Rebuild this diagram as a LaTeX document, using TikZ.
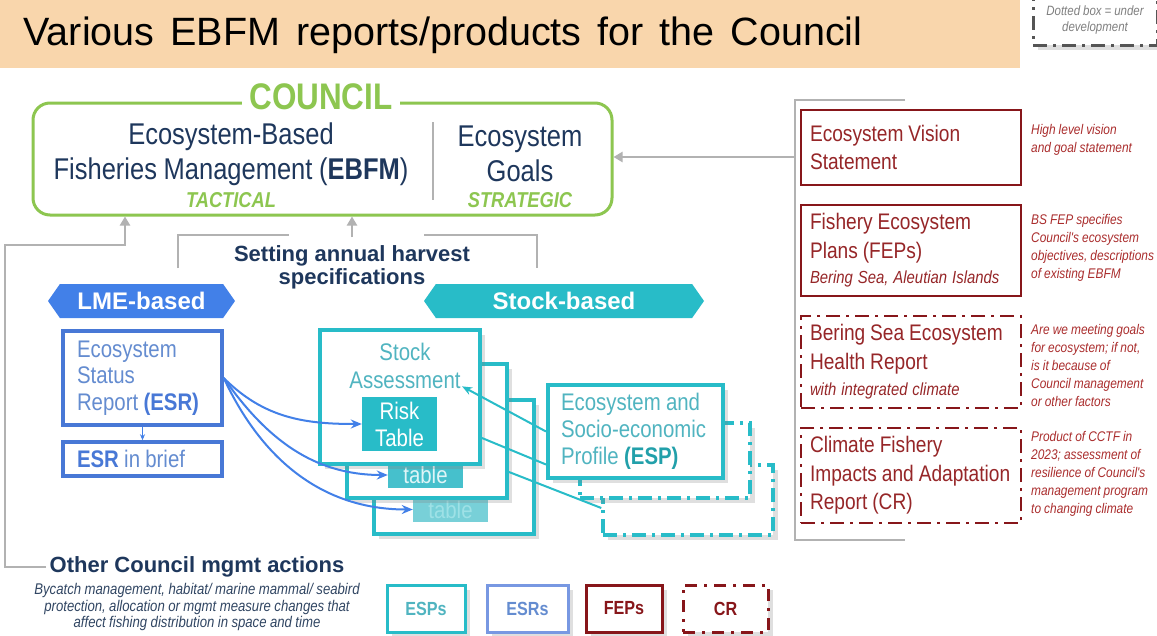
\documentclass[tikz,border=0pt]{standalone}
\usepackage{fontspec}
\setmainfont{Liberation Sans}
\newfontfamily\nar[FakeStretch=0.85]{Liberation Sans}
\usetikzlibrary{arrows.meta,positioning,shapes.symbols,shadows}
\definecolor{peach}{RGB}{249,214,172}
\definecolor{navy}{RGB}{30,55,92}
\definecolor{cgreen}{RGB}{141,198,80}
\definecolor{fepred}{RGB}{135,22,26}
\definecolor{redink}{RGB}{150,38,40}
\definecolor{noteink}{RGB}{170,45,45}
\definecolor{stteal}{RGB}{40,188,200}
\definecolor{tealink}{RGB}{80,180,192}
\definecolor{tblmid}{RGB}{70,192,204}
\definecolor{tblpale}{RGB}{120,208,216}
\definecolor{lmeblue}{RGB}{66,128,232}
\definecolor{esrblue}{RGB}{72,120,214}
\definecolor{esrink}{RGB}{100,140,208}
\definecolor{esrlight}{RGB}{120,152,226}
\definecolor{inkgray}{RGB}{178,178,178}
\definecolor{devgray}{RGB}{85,85,85}
\newcommand\fsz[2]{\fontsize{#1}{#2}\selectfont}

\begin{document}
\begin{tikzpicture}[x=1pt,y=-1pt,
  tight/.style={execute at begin node={\spaceskip=.22em plus .1em minus .05em\relax}},
  shd/.style={drop shadow={opacity=.25,shadow xshift=5pt,shadow yshift=-5pt}},
  cbox/.style={draw=cgreen,line width=3pt,rounded corners=17pt,minimum width=579pt,minimum height=112pt},
  navt/.style={tight,text=navy,align=center,font=\nar\fsz{30}{35}},
  grt/.style={text=cgreen,font=\nar\bfseries\itshape\fsz{21.5}{24}},
  hd/.style={text=navy,align=center,font=\bfseries\fsz{22}{23}},
  ban/.style={shape=signal,signal to=west and east,signal pointer angle=110,minimum height=34pt,
    inner sep=0pt,text=white,font=\bfseries\fsz{24}{26}},
  sbox/.style={shd,draw=stteal,line width=4pt,fill=white,minimum width=160pt,minimum height=134pt},
  tbl/.style={fill=stteal,text=white,minimum width=75pt,align=center,inner sep=0pt,font=\nar\fsz{24}{27}},
  pbox/.style={tight,shd,draw=stteal,line width=4pt,fill=white,minimum width=175pt,text width=149pt,
    inner xsep=13pt,align=left,text=tealink,font=\nar\fsz{24}{27}},
  dbox/.style={shd,draw=stteal,line width=3.5pt,fill=white,dash pattern=on 14pt off 6pt on 3pt off 6pt},
  ebox/.style={tight,draw=esrblue,line width=3.5pt,minimum width=159pt,text width=131pt,inner xsep=14pt,
    align=left,text=esrink,font=\nar\fsz{24}{26.5}},
  rbox/.style={tight,draw=fepred,line width=2.5pt,minimum width=220pt,text width=202pt,inner xsep=9pt,
    align=left,text=redink,font=\nar\fsz{22.5}{28.5}},
  rdash/.style={rbox,dash pattern=on 14pt off 6pt on 3pt off 6pt},
  nt/.style={tight,anchor=west,inner sep=0pt,align=left,text=noteink,font=\nar\itshape\fsz{14}{18}},
  lg/.style={shd,line width=3pt,fill=white,minimum height=47pt,font=\nar\bfseries\fsz{19}{22}},
  gl/.style={draw=inkgray,line width=2.5pt},
  garr/.style={gl,-{Triangle[length=9pt,width=10pt]}},
  barr/.style={draw=lmeblue,line width=2pt,-{Stealth[length=11pt,width=9pt]}},
  tl/.style={draw=stteal,line width=2pt},
  tarr/.style={tl,-{Stealth[length=10pt,width=8pt]}}]
\fill[white] (0,0) rectangle (1157,635);
\useasboundingbox (0,0) rectangle (1157,635);
% title band
\fill[peach] (0,0) rectangle (1020,68);
\node[anchor=west,font=\fsz{39.5}{44}] (ttl) at (20,35)
  {\spaceskip=16pt\relax Various EBFM reports/products for the Council};
\node[tight,shd,draw=devgray,line width=3pt,fill=white,dash pattern=on 14pt off 6pt on 3pt off 6pt,
  minimum width=124pt,minimum height=50pt,align=center,text=gray,font=\nar\itshape\fsz{13.5}{16}]
  (devkey) at (1095,20) {Dotted box = under\\development};
% council
\node[cbox] (council) at (322.5,159) {};
\node[fill=white,inner xsep=7pt,inner ysep=0pt,text=cgreen,font=\nar\bfseries\fsz{37}{40}]
  (ctl) at (321,97) {COUNCIL};
\node[navt] (ebfm) at (231,154) {Ecosystem-Based\\Fisheries Management (\textbf{EBFM})};
\node[grt] (tac) at (231,200) {TACTICAL};
\draw[draw=inkgray,line width=1.5pt] (433,122) -- (433,200);
\node[navt] (goal) at (520,154) {Ecosystem\\Goals};
\node[grt] (strat) at (520,200) {STRATEGIC};
% gray connectors into the council
\coordinate (bendL) at (5,245);
\coordinate (tacin) at (125,245);
\coordinate (setL) at (178,268);
\coordinate (setR) at (537,268);
\coordinate (gapL) at (289,235);
\coordinate (gapR) at (424,235);
\coordinate (setM) at (352,237);
\coordinate (rtop) at (905,100);
\coordinate (rbot) at (905,540);
\coordinate (visin) at (795,157);
\node[hd] (set) at (352,267) {Setting annual harvest\\specifications};
\node[hd] (othr) at (197,567) {Other Council mgmt actions};
\node[tight,align=center,text=navy!80!gray,font=\nar\itshape\fsz{15.5}{16.5}] (othrsub) at (197,607)
  {Bycatch management, habitat/ marine mammal/ seabird\\protection, allocation or mgmt measure changes that\\affect fishing distribution in space and time};
\draw[garr] (othr.west) -| (bendL) -- (tacin) -- (tacin |- council.south);
\draw[gl] (setL) |- (gapL);
\draw[gl] (gapR) -| (setR);
\draw[garr] (setM) -- (setM |- council.south);
\draw[gl] (rtop) -| (visin) |- (rbot);
\draw[garr] (visin) -- (visin -| council.east);
% banners
\node[ban,fill=lmeblue,minimum width=187pt] (lme) at (141.5,301) {LME-based};
\node[ban,fill=stteal,minimum width=280pt] (stk) at (564,301) {Stock-based};
% LME side
\node[ebox,minimum height=94pt] (esr) at (142.5,378) {Ecosystem\\Status\\Report \textbf{\color{esrblue}(ESR)}};
\node[ebox,minimum height=34pt] (brief) at (142.5,459) {\textbf{\color{esrblue}ESR} in brief};
\draw[draw=lmeblue,line width=1.2pt,-{Stealth[length=6pt,width=5pt]}] (esr) -- (brief);
% stock assessments
\node[sbox] (sa3) at (454,467) {};
\node[tbl,fill=tblpale,text=white!55!stteal,minimum height=25pt] (tb3) at (450.5,509.5) {table};
\node[sbox] (sa2) at (427,431) {};
\node[tbl,fill=tblmid,text=white!85!stteal,minimum height=26pt] (tb2) at (425.5,475) {table};
\node[sbox] (sa1) at (400,397) {};
\node[text=tealink,align=center,font=\nar\fsz{24}{28}] (satxt) at (405,366) {Stock\\Assessment};
\node[tbl,minimum height=54pt] (risk) at (399.5,424) {Risk\\Table};
% ESPs
\node[dbox,minimum width=170pt,minimum height=70pt] (esp3) at (688,500) {};
\node[dbox,minimum width=170pt,minimum height=75pt] (esp2) at (665,460.5) {};
\node[pbox,minimum height=93pt] (esp) at (635.5,431.5)
  {Ecosystem and\\Socio-economic\\Profile \textbf{\color{stteal!85!black}(ESP)}};
\draw[tarr] (esp.west) -- ([xshift=-2pt,yshift=6pt]satxt.south east);
\draw[tl] ([yshift=-41pt]sa1.east) -- ([yshift=-33pt]esp.west);
\draw[tl] ([yshift=-41pt]sa2.east) -- ([yshift=-8pt]esp3.west);
\draw[barr] (esr.east) to[out=-45,in=180] (risk.west);
\draw[barr] (esr.east) to[out=-55,in=180] (tb2.west);
\draw[barr] (esr.east) to[out=-65,in=180] (tb3.west);
% council products
\node[rbox,minimum height=75pt] (vis) at (911,147.5) {Ecosystem Vision\\Statement};
\node[rbox,minimum height=91pt] (fep) at (911,250.5)
  {Fishery Ecosystem\\Plans (FEPs)\\[-3pt]{\itshape\fsz{17.5}{20}Bering Sea, Aleutian Islands}};
\node[rdash,minimum height=92pt] (hlth) at (911,362)
  {Bering Sea Ecosystem\\Health Report\\[-2pt]{\itshape\fsz{17.5}{20}with integrated climate}};
\node[rdash,minimum height=95pt] (cr) at (911,475.5) {Climate Fishery\\Impacts and Adaptation\\Report (CR)};
\node[nt] (nvis) at (1031,140) {High level vision\\and goal statement};
\node[nt] (nfep) at (1031,248) {BS FEP specifies\\Council's ecosystem\\objectives, descriptions\\of existing EBFM};
\node[nt] (nhlth) at (1031,365) {Are we meeting goals\\for ecosystem; if not,\\is it because of\\Council management\\or other factors};
\node[nt] (ncr) at (1031,474) {Product of CCTF in\\2023; assessment of\\resilience of Council's\\management program\\to changing climate};
% key
\node[lg,draw=stteal,text=tealink,minimum width=78pt] (lgesp) at (426,608.5) {ESPs};
\node[lg,draw=esrlight,text=esrink,minimum width=81pt] (lgesr) at (527.5,608.5) {ESRs};
\node[lg,draw=fepred,text=fepred,minimum width=76pt] (lgfep) at (624,608.5) {FEPs};
\node[lg,draw=fepred,text=fepred,dash pattern=on 12pt off 7pt on 3pt off 7pt,minimum width=85pt] (lgcr) at (725.5,608.5) {CR};
\end{tikzpicture}
\end{document}
